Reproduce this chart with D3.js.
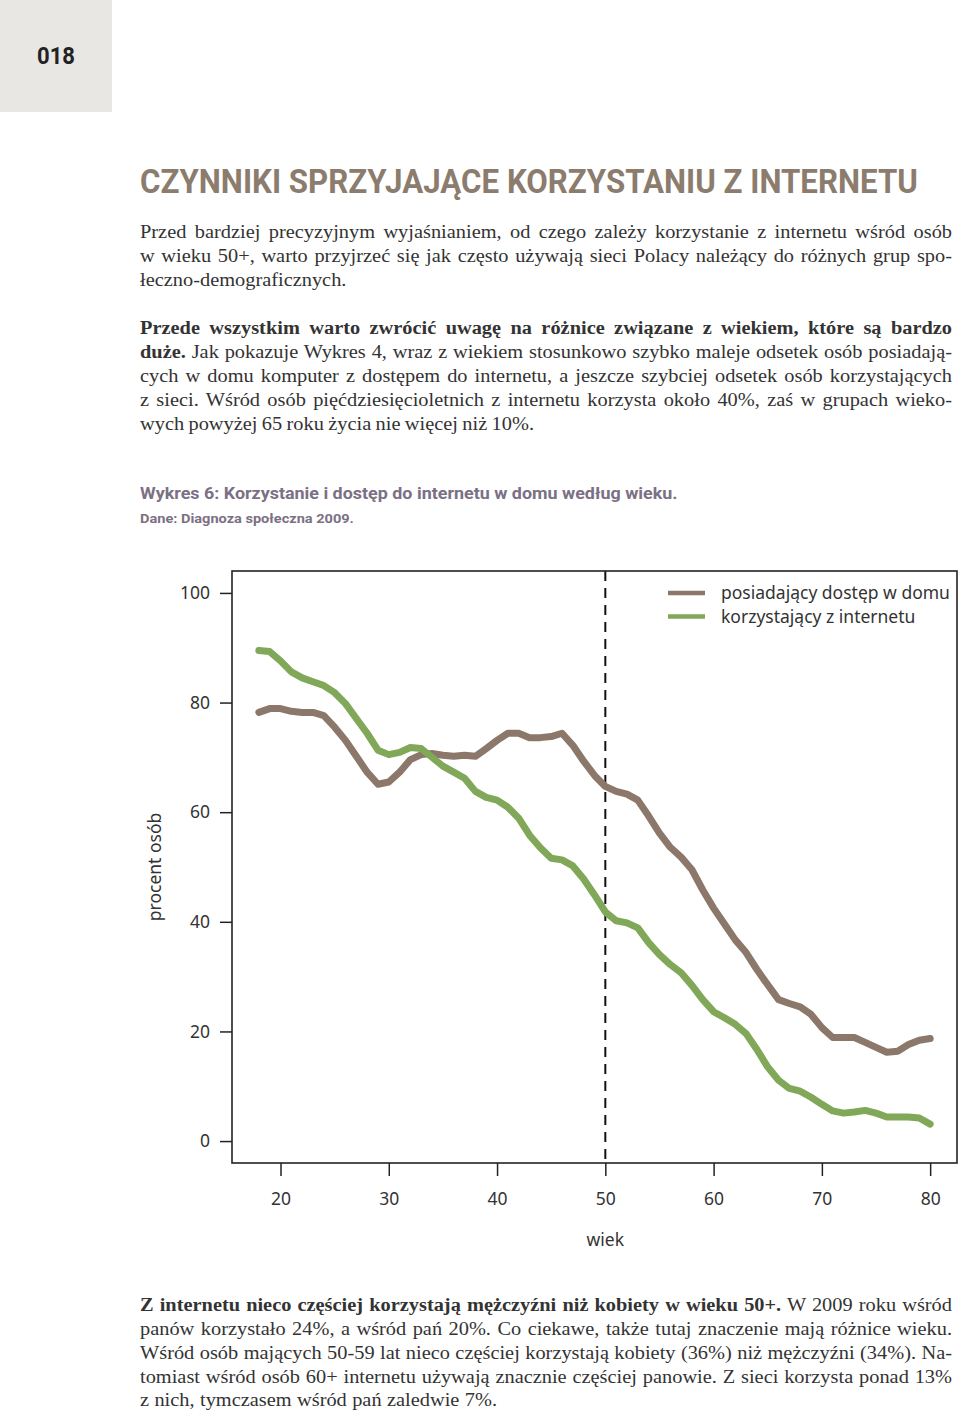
<!DOCTYPE html>
<html><head><meta charset="utf-8">
<script src="https://cdn.jsdelivr.net/npm/d3@7"></script>
<style>body{margin:0;background:#fff}svg{display:block}</style>
</head><body><svg id="c" width="960" height="1415"></svg>
<script>
// ---- DATA ----
const ages = [18,19,20,21,22,23,24,25,26,27,28,29,30,31,32,33,34,35,36,37,38,39,40,41,42,43,44,45,46,47,48,49,50,51,52,53,54,55,56,57,58,59,60,61,62,63,64,65,66,67,68,69,70,71,72,73,74,75,76,77,78,79,80];
const accessHome = [78.2,78.9,78.9,78.4,78.2,78.2,77.6,75.5,73.1,70.2,67.3,65.1,65.5,67.3,69.6,70.5,70.7,70.4,70.2,70.4,70.2,71.6,73.1,74.4,74.4,73.6,73.6,73.8,74.4,72.2,69.3,66.7,64.7,63.8,63.3,62.2,59.3,56.2,53.6,51.8,49.5,45.8,42.5,39.6,36.7,34.4,31.3,28.5,25.8,25.1,24.5,23.1,20.7,18.9,18.9,18.9,18.0,17.1,16.2,16.4,17.6,18.4,18.7];
const usingInternet = [89.5,89.3,87.6,85.6,84.5,83.8,83.1,81.8,79.8,77.1,74.4,71.3,70.5,70.9,71.8,71.6,70.0,68.4,67.3,66.2,63.8,62.7,62.2,60.9,58.9,55.8,53.5,51.6,51.3,50.2,47.8,44.9,41.8,40.2,39.8,38.9,36.2,34.0,32.2,30.7,28.4,25.8,23.6,22.5,21.3,19.6,16.7,13.5,11.1,9.6,9.1,8.0,6.7,5.5,5.1,5.3,5.6,5.1,4.4,4.4,4.4,4.2,3.1];
const seriesNames = ["posiadający dostęp w domu", "korzystający z internetu"];
const yTickValues = [0,20,40,60,80,100];
const xTickValues = [20,30,40,50,60,70,80];
const markerAge = [50];
const yAxisTitle = "procent osób";
const xAxisTitle = "wiek";

(function(){
const svg = d3.select("#c");
const BODY = "'Liberation Serif', serif";
const SANS = "'Noto Sans', 'Open Sans', sans-serif";
const HEAD = "Roboto, 'Noto Sans', sans-serif";

function fitHead(txt, xx, yy, nominal, width, color, weight){
  const t = svg.append("text").attr("font-family",HEAD).attr("font-weight",weight)
    .attr("font-size",nominal).attr("fill",color).text(txt);
  const w = t.node().getComputedTextLength();
  const fs = nominal*width/w;
  t.attr("font-size",fs).attr("transform",`translate(${xx},${yy}) scale(1,${nominal/fs})`);
  return t;
}

// ---- header ----
svg.append("rect").attr("x",0).attr("y",0).attr("width",112).attr("height",112).attr("fill","#e8e7e4");
fitHead("018", 37, 64, 24, 38, "#222", 700);
fitHead("CZYNNIKI SPRZYJAJĄCE KORZYSTANIU Z INTERNETU", 140, 193, 34, 778, "#8b7c6e", 700);

// ---- body text ----
const SX = 1.045;
function drawLine(yy, segs, rightEdge){
  const t = svg.append("text").attr("x",0).attr("y",0)
    .attr("transform",`translate(140,${yy}) scale(${SX},1)`)
    .attr("font-family",BODY).attr("font-size",19.5).attr("fill","#333");
  segs.forEach(s=>{
    t.append("tspan").attr("font-weight", s[1]?700:400).text(s[0]);
  });
  if(rightEdge){
    const node=t.node();
    const w=node.getComputedTextLength();
    const n=(node.textContent.match(/ /g)||[]).length;
    const target=(rightEdge-140)/SX;
    if(n>0){
      const ws=(target-w)/n;
      if(ws>-2.5) t.attr("word-spacing",ws);
      else t.attr("textLength",target).attr("lengthAdjust","spacingAndGlyphs");
    }
  }
}
const bodyLines = [
  [238,[["Przed bardziej precyzyjnym wyjaśnianiem, od czego zależy korzystanie z internetu wśród osób"]],952],
  [262,[["w wieku 50+, warto przyjrzeć się jak często używają sieci Polacy należący do różnych grup spo-"]],952],
  [286,[["łeczno-demograficznych."]],null],
  [334,[["Przede wszystkim warto zwrócić uwagę na różnice związane z wiekiem, które są bardzo",1]],952],
  [358,[["duże.",1],[" Jak pokazuje Wykres 4, wraz z wiekiem stosunkowo szybko maleje odsetek osób posiadają-"]],952],
  [382,[["cych w domu komputer z dostępem do internetu, a jeszcze szybciej odsetek osób korzystających"]],952],
  [406,[["z sieci. Wśród osób pięćdziesięcioletnich z internetu korzysta około 40%, zaś w grupach wieko-"]],952],
  [430,[["wych powyżej 65 roku życia nie więcej niż 10%."]],534],
  [1311,[["Z internetu nieco częściej korzystają mężczyźni niż kobiety w wieku 50+.",1],[" W 2009 roku wśród"]],952],
  [1335,[["panów korzystało 24%, a wśród pań 20%. Co ciekawe, także tutaj znaczenie mają różnice wieku."]],952],
  [1359,[["Wśród osób mających 50-59 lat nieco częściej korzystają kobiety (36%) niż mężczyźni (34%). Na-"]],952],
  [1383,[["tomiast wśród osób 60+ internetu używają znacznie częściej panowie. Z sieci korzysta ponad 13%"]],952],
  [1406,[["z nich, tymczasem wśród pań zaledwie 7%."]],497]
];
bodyLines.forEach(l=>drawLine(l[0],l[1],l[2]));

// ---- caption ----
fitHead("Wykres 6: Korzystanie i dostęp do internetu w domu według wieku.", 140, 499, 17, 538, "#7b7084", 700);
fitHead("Dane: Diagnoza społeczna 2009.", 140, 523, 13.5, 214, "#7b7084", 700);

// ---- chart ----
const pL=232, pR=957, pT=571, pB=1163;
const xExt = d3.extent(ages), xPad=(xExt[1]-xExt[0])*0.04;
const x = d3.scaleLinear().domain([xExt[0]-xPad, xExt[1]+xPad]).range([pL,pR]);
const y = d3.scaleLinear().domain([-4,104]).range([pB,pT]);

const yAxis = svg.append("g").attr("transform",`translate(${pL},0)`)
  .call(d3.axisLeft(y).tickValues(yTickValues).tickSize(12).tickPadding(10).tickFormat(d3.format("d")));
yAxis.select(".domain").remove();
yAxis.selectAll("line").attr("stroke","#222").attr("stroke-width",1.5);
yAxis.selectAll("text").attr("font-family",SANS).attr("font-size",17.5).attr("fill","#333");

const xAxis = svg.append("g").attr("transform",`translate(0,${pB})`)
  .call(d3.axisBottom(x).tickValues(xTickValues).tickSize(13).tickPadding(17));
xAxis.select(".domain").remove();
xAxis.selectAll("line").attr("stroke","#222").attr("stroke-width",1.5);
xAxis.selectAll("text").attr("font-family",SANS).attr("font-size",17.5).attr("fill","#333");

svg.append("text").attr("transform",`translate(161,${(y(0)+y(100))/2}) rotate(-90)`)
  .attr("text-anchor","middle").attr("font-family",SANS).attr("font-size",17.5).attr("fill","#333").text(yAxisTitle);
svg.append("text").attr("x",x(50)).attr("y",1246).attr("text-anchor","middle")
  .attr("font-family",SANS).attr("font-size",17.5).attr("fill","#333").text(xAxisTitle);

// dashed marker
svg.selectAll(".marker").data(markerAge).enter().append("line")
  .attr("x1",d=>x(d)).attr("x2",d=>x(d)).attr("y1",pT).attr("y2",pB)
  .attr("stroke","#111").attr("stroke-width",2).attr("stroke-dasharray","10,7");

const colors = ["#8c786a","#80a858"];
const series = [accessHome, usingInternet];
const line = d3.line().x((d,i)=>x(ages[i])).y(d=>y(d));
series.forEach((s,i)=>{
  svg.append("path").datum(s).attr("d",line).attr("fill","none")
    .attr("stroke",colors[i]).attr("stroke-width",7)
    .attr("stroke-linejoin","round").attr("stroke-linecap","round");
});

// frame
svg.append("rect").attr("x",pL).attr("y",pT).attr("width",pR-pL).attr("height",pB-pT)
  .attr("fill","none").attr("stroke","#222").attr("stroke-width",1.6);

// legend
seriesNames.forEach((n,i)=>{
  const ly = 593 + i*23.5;
  svg.append("line").attr("x1",668).attr("x2",705).attr("y1",ly).attr("y2",ly)
    .attr("stroke",colors[i]).attr("stroke-width",4.5);
  svg.append("text").attr("x",721).attr("y",ly+6).attr("font-family",SANS).attr("font-size",17.5)
    .attr("fill","#333").text(n);
});
})();
</script></body></html>
